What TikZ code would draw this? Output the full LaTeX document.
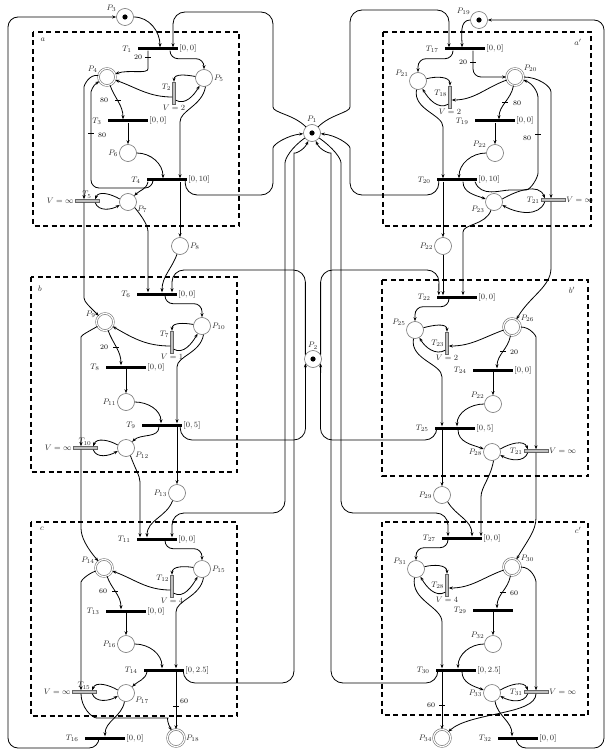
\documentclass[tikz,border=0pt]{standalone}
\usepackage{tikz}
\usetikzlibrary{arrows.meta, positioning, calc}
\usepackage{amsmath, amssymb}

\begin{document}
\begin{tikzpicture}[
  x=1pt, y=-1pt,
  lbl/.style={font=\footnotesize, inner sep=1pt, text=black!85},
  place/.style={circle, draw=black!55, fill=white, line width=0.6pt, minimum size=17pt, inner sep=0pt},
  dplace/.style={place, double=white, double distance=1.2pt},
  tplace/.style={place, path picture={\fill[black] (path picture bounding box.center) circle (2.6pt);}},
  tr/.style 2 args={rectangle, fill=black, minimum width=40pt, minimum height=3pt, inner sep=0pt,
    label={[lbl, label distance=5pt]left:$T_{#1}$}, label={[lbl]right:#2}},
  vtr/.style={rectangle, draw=black!60, fill=black!25, minimum width=3pt, minimum height=22pt, inner sep=0pt},
  htr/.style={rectangle, draw=black!60, fill=black!25, minimum width=24pt, minimum height=3pt, inner sep=0pt},
  arc/.style={draw, line width=0.8pt, rounded corners=8pt, -{Stealth[length=4pt, width=3pt]}},
  tk/.style={line width=0.8pt},
  wt/.style={font=\scriptsize, inner sep=0.5pt},
  box/.style={draw, line width=1.5pt, dash pattern=on 5pt off 3.5pt}
]
  \useasboundingbox (0,0) rectangle (610,751);

  % modules
  \draw[box] (33,32) rectangle (239,226);
  \draw[box] (31,277) rectangle (237,472);
  \draw[box] (31,522) rectangle (237,716);
  \draw[box] (383,32) rectangle (591,226);
  \draw[box] (382,280) rectangle (588,476);
  \draw[box] (382,522) rectangle (588,715);
  \node[lbl] (la) at (43,40) {$a$};
  \node[lbl] (lb) at (40,289) {$b$};
  \node[lbl] (lc) at (42,529) {$c$};
  \node[lbl] (la2) at (578,42) {$a'$};
  \node[lbl] (lb2) at (572,290) {$b'$};
  \node[lbl] (lc2) at (578,530) {$c'$};

  % shared places
  \node[tplace, label={[lbl]above:$P_1$}] (P1) at (312,133) {};
  \node[tplace, label={[lbl]above:$P_2$}] (P2) at (313,359) {};
  \node[tplace, label={[lbl]150:$P_3$}] (P3) at (125,17) {};
  \node[tplace, label={[lbl]150:$P_{19}$}] (P19) at (479,20) {};

  % a
  \node[tr={1}{$[0,0]$}] (T1) at (158,49) {};
  \node[dplace, label={[lbl]160:$P_4$}] (P4) at (107,77) {};
  \node[place, label={[lbl]right:$P_5$}] (P5) at (204,78) {};
  \node[vtr, label={[lbl,yshift=6pt]left:$T_2$}, label={[lbl]below:$V=2$}] (T2) at (174,93) {};
  \node[tr={3}{$[0,0]$}] (T3) at (128,121) {};
  \node[place, label={[lbl]left:$P_6$}] (P6) at (128,153) {};
  \node[tr={4}{$[0,10]$}] (T4) at (167,180) {};
  \node[place, label={[lbl]-20:$P_7$}] (P7) at (128,202) {};
  \node[htr, label={[lbl]above:$T_5$}, label={[lbl]left:$V=\infty$}] (T5) at (87,201) {};
  \node[place, label={[lbl]right:$P_8$}] (P8) at (180,246) {};

  % b
  \node[tr={6}{$[0,0]$}] (T6) at (157,294) {};
  \node[dplace, label={[lbl]160:$P_9$}] (P9) at (105,322) {};
  \node[place, label={[lbl]right:$P_{10}$}] (P10) at (202,326) {};
  \node[vtr, label={[lbl,yshift=8pt]left:$T_7$}, label={[lbl]below:$V=1$}] (T7) at (172,342) {};
  \node[tr={8}{$[0,0]$}] (T8) at (126,367) {};
  \node[place, label={[lbl]left:$P_{11}$}] (P11) at (126,402) {};
  \node[tr={9}{$[0,5]$}] (T9) at (162,425) {};
  \node[place, label={[lbl]-20:$P_{12}$}] (P12) at (126,448) {};
  \node[htr, label={[lbl]above:$T_{10}$}, label={[lbl]left:$V=\infty$}] (T10) at (85,448) {};
  \node[place, label={[lbl]left:$P_{13}$}] (P13) at (177,493) {};

  % c
  \node[tr={11}{$[0,0]$}] (T11) at (157,539) {};
  \node[dplace, label={[lbl]160:$P_{14}$}] (P14) at (104,568) {};
  \node[place, label={[lbl]right:$P_{15}$}] (P15) at (202,569) {};
  \node[vtr, label={[lbl,yshift=8pt]left:$T_{12}$}, label={[lbl]below:$V=4$}] (T12) at (172,586) {};
  \node[tr={13}{$[0,0]$}] (T13) at (126,611) {};
  \node[place, label={[lbl]left:$P_{16}$}] (P16) at (126,644) {};
  \node[tr={14}{$[0,2.5]$}] (T14) at (164,670) {};
  \node[place, label={[lbl]-20:$P_{17}$}] (P17) at (126,693) {};
  \node[htr, label={[lbl]above:$T_{15}$}, label={[lbl]left:$V=\infty$}] (T15) at (84,692) {};
  \node[tr={16}{$[0,0]$}] (T16) at (105,738) {};
  \node[dplace, label={[lbl]right:$P_{18}$}] (P18) at (176,738) {};

  % a'
  \node[tr={17}{$[0,0]$}] (T17) at (465,49) {};
  \node[place, label={[lbl]160:$P_{21}$}] (P21) at (418,81) {};
  \node[dplace, label={[lbl]30:$P_{20}$}] (P20) at (515,77) {};
  \node[vtr, label={[lbl,yshift=4pt]left:$T_{18}$}, label={[lbl]below:$V=2$}] (T18) at (450,97) {};
  \node[tr={19}{$[0,0]$}] (T19) at (495,121) {};
  \node[place, label={[lbl]150:$P_{22}$}] (P22) at (495,153) {};
  \node[tr={20}{$[0,10]$}] (T20) at (457,180) {};
  \node[place, label={[lbl]-160:$P_{23}$}] (P23) at (494,202) {};
  \node[htr, label={[lbl]left:$T_{21}$}, label={[lbl]right:$V=\infty$}] (T21) at (553,200) {};
  \node[place, label={[lbl]left:$P_{22}$}] (P24) at (443,246) {};

  % b'
  \node[tr={22}{$[0,0]$}] (T22) at (457,297) {};
  \node[place, label={[lbl]160:$P_{25}$}] (P25) at (415,330) {};
  \node[dplace, label={[lbl]30:$P_{26}$}] (P26) at (512,327) {};
  \node[vtr, label={[lbl]left:$T_{23}$}, label={[lbl]below:$V=2$}] (T23) at (447,343) {};
  \node[tr={24}{$[0,0]$}] (T24) at (493,370) {};
  \node[place, label={[lbl]150:$P_{22}$}] (P27) at (493,404) {};
  \node[tr={25}{$[0,5]$}] (T25) at (455,428) {};
  \node[place, label={[lbl]left:$P_{28}$}] (P28) at (492,452) {};
  \node[htr, label={[lbl]left:$T_{21}$}, label={[lbl]right:$V=\infty$}] (T26) at (536,451) {};
  \node[place, label={[lbl]left:$P_{29}$}] (P29) at (442,495) {};

  % c'
  \node[tr={27}{$[0,0]$}] (T27) at (462,538) {};
  \node[place, label={[lbl]160:$P_{31}$}] (P31) at (416,569) {};
  \node[dplace, label={[lbl]30:$P_{30}$}] (P30) at (512,567) {};
  \node[vtr, label={[lbl]left:$T_{28}$}, label={[lbl]below:$V=4$}] (T28) at (447,585) {};
  \node[tr={29}{}] (T29) at (493,610) {};
  \node[place, label={[lbl]150:$P_{32}$}] (P32) at (493,644) {};
  \node[tr={30}{$[0,2.5]$}] (T30) at (456,670) {};
  \node[place, label={[lbl]left:$P_{33}$}] (P33) at (492,693) {};
  \node[htr, label={[lbl]left:$T_{31}$}, label={[lbl]right:$V=\infty$}] (T31) at (536,692) {};
  \node[dplace, label={[lbl]left:$P_{34}$}] (P34) at (442,738) {};
  \node[tr={32}{$[0,0]$}] (T32) at (518,738) {};

  % arcs of a
  \draw[arc] (P3.east) to[out=0,in=90] ([xshift=2pt]T1.north);
  \draw[arc, rounded corners=12pt] (P1.135) to[out=135,in=-90] (273,95) |- (173,12) -- ([xshift=15pt]T1.north);
  \draw[arc] ([xshift=-10pt]T1.south) -- ++(0,10) to[out=-90,in=20] (P4.20);
  \draw[arc] ([xshift=12pt]T1.south) -- ++(0,8) -| (P5.north);
  \draw[arc] (P5.170) to[out=170,in=90] (T2.north);
  \draw[arc] ([yshift=4pt]T2.south east) to[out=-30,in=-120] (P5.-120);
  \draw[arc] ([yshift=-4pt]T2.west) to[out=180,in=-20] (P4.-20);
  \draw[arc] (P4.-70) to[out=-70,in=90] ([xshift=-5pt]T3.north);
  \draw[arc] (T3.south) -- (P6.north);
  \draw[arc] (P6.east) to[out=0,in=90] ([xshift=-4pt]T4.north);
  \draw[arc] (P5.-80) to[out=-100,in=90] (180,130) -- ([xshift=13pt]T4.north);
  \draw[arc] ([xshift=-14pt]T4.south) |- (91,188) -- (91,100) to[out=90,in=-150] (P4.-150);
  \draw[arc] ([xshift=-19pt]T4.south) to[out=-100,in=45] (P7.45);
  \draw[arc] ([xshift=13pt]T4.south) -- (P8.north);
  \draw[arc, rounded corners=12pt] ([xshift=-2pt]T4.east) |- (273,195) -- (273,160) to[out=90,in=185] (P1.185);
  \draw[arc] (P4.170) to[out=170,in=90] (84,95) -- ([xshift=-3pt]T5.north);
  \draw[arc] (P7.160) to[out=150,in=70] ([xshift=-4pt]T5.north east);
  \draw[arc] ([xshift=-4pt]T5.south east) to[out=-70,in=-150] (P7.-160);
  \node[wt] (w1) at (138,57) {20};
  \draw[tk] (145,57) -- (151,57);
  \node[wt] (w2) at (104,100) {80};
  \draw[tk] (115,100) -- (121,100);
  \node[wt] (w3) at (102,135) {80};
  \draw[tk] (88,133) -- (94,133);

  % arcs of b
  \draw[arc] ([xshift=-3pt]T5.south) -- (84,290) to[out=-90,in=135] (P9.135);
  \draw[arc] (P7.-40) to[out=-50,in=90] (148,240) -- ([xshift=-9pt]T6.north);
  \draw[arc] (P8.-110) to[out=-110,in=90] ([xshift=5pt]T6.north);
  \draw[arc, rounded corners=12pt] (P2.150) |- (172,270) -- ([xshift=15pt]T6.north);
  \draw[arc] ([xshift=8pt]T6.south) -- ++(0,8) -| (P10.north);
  \draw[arc] (P10.170) to[out=170,in=90] (T7.north);
  \draw[arc] ([yshift=4pt]T7.south east) to[out=-30,in=-120] (P10.-120);
  \draw[arc] ([yshift=-4pt]T7.west) to[out=180,in=-30] (P9.-30);
  \draw[arc] (P9.-70) to[out=-70,in=90] ([xshift=-5pt]T8.north);
  \draw[arc] (T8.south) -- (P11.north);
  \draw[arc] (P11.east) to[out=0,in=90] ([xshift=-1pt]T9.north);
  \draw[arc] (P10.-80) to[out=-100,in=90] (177,375) -- ([xshift=15pt]T9.north);
  \draw[arc] ([xshift=15pt]T9.south) -- (P13.north);
  \draw[arc] ([xshift=-3pt]T9.south) to[out=-90,in=45] (P12.45);
  \draw[arc, rounded corners=12pt] ([xshift=-2pt]T9.east) |- (305.6,440) -- (P2.-150);
  \draw[arc] (P9.-150) to[out=-150,in=90] (81,345) -- ([xshift=-4pt]T10.north);
  \draw[arc] (P12.160) to[out=150,in=70] ([xshift=-4pt]T10.north east);
  \draw[arc] ([xshift=-4pt]T10.south east) to[out=-70,in=-150] (P12.-160);
  \node[wt] (w4) at (104,347) {20};
  \draw[tk] (113,347) -- (119,347);

  % arcs of c
  \draw[arc] ([xshift=-4pt]T10.south) -- (81,520) to[out=-90,in=130] (P14.130);
  \draw[arc] (P12.-60) to[out=-70,in=90] (140,490) -- ([xshift=-17pt]T11.north);
  \draw[arc] (P13.-120) to[out=-110,in=90] ([xshift=-10pt]T11.north);
  \draw[arc, rounded corners=12pt] (P1.-145) to[out=-145,in=90] (285,175) |- (172,513) -- ([xshift=15pt]T11.north);
  \draw[arc] ([xshift=8pt]T11.south) -- ++(0,8) -| (P15.north);
  \draw[arc] (P15.170) to[out=170,in=90] (T12.north);
  \draw[arc] ([yshift=4pt]T12.south east) to[out=-30,in=-120] (P15.-120);
  \draw[arc] ([yshift=-4pt]T12.west) to[out=180,in=-20] (P14.-20);
  \draw[arc] (P14.-70) to[out=-70,in=90] ([xshift=-5pt]T13.north);
  \draw[arc] (T13.south) -- (P16.north);
  \draw[arc] (P16.east) to[out=0,in=90] ([xshift=-2pt]T14.north);
  \draw[arc] (P15.-80) to[out=-100,in=90] (176,620) -- ([xshift=12pt]T14.north);
  \draw[arc] ([xshift=12pt]T14.south) -- (P18.north);
  \draw[arc] ([xshift=-17pt]T14.south) to[out=-100,in=45] (P17.45);
  \draw[arc, rounded corners=12pt] ([xshift=-1pt]T14.east) |- (294,683) -- (294,165) to[out=90,in=-115] (P1.-115);
  \draw[arc] (P14.-160) to[out=-160,in=90] (81,590) -- ([xshift=-3pt]T15.north);
  \draw[arc] (P17.160) to[out=150,in=70] ([xshift=-4pt]T15.north east);
  \draw[arc] ([xshift=-4pt]T15.south east) to[out=-70,in=-150] (P17.-160);
  \draw[arc] ([xshift=-3pt]T15.south) to[out=-90,in=180] (105,718) -- (160,718) to[out=0,in=120] (P18.120);
  \draw[arc] (P17.-100) to[out=-100,in=90] (T16.north);
  \draw[arc, rounded corners=10pt] ([xshift=-6pt]T16.south) |- (8,748) |- (P3.west);
  \node[wt] (w5) at (103,591) {60};
  \draw[tk] (112,591) -- (118,591);
  \node[wt] (w6) at (184,701) {60};
  \draw[tk] (173,706) -- (179,706);

  % arcs of a'
  \draw[arc] (P19.west) to[out=180,in=90] ([xshift=-3pt]T17.north);
  \draw[arc, rounded corners=12pt] (P1.45) to[out=45,in=-90] (350,95) |- (449,10) -- ([xshift=-16pt]T17.north);
  \draw[arc] ([xshift=-12pt]T17.south) -- ++(0,8) -| (P21.north);
  \draw[arc] ([xshift=8pt]T17.south) |- (P20.west);
  \draw[arc] (P21.15) to[out=15,in=90] (T18.north);
  \draw[arc] ([yshift=4pt]T18.south west) to[out=-150,in=-60] (P21.-60);
  \draw[arc] (P20.-160) to[out=-160,in=0] ([yshift=-3pt]T18.east);
  \draw[arc] (P20.-100) to[out=-100,in=90] ([xshift=4pt]T19.north);
  \draw[arc] (T19.south) -- (P22.north);
  \draw[arc] (P22.west) to[out=180,in=90] ([xshift=2pt]T20.north);
  \draw[arc] (P21.-100) to[out=-100,in=90] (443,135) -- ([xshift=-14pt]T20.north);
  \draw[arc] ([xshift=-14pt]T20.south) -- (P24.north);
  \draw[arc] ([xshift=6pt]T20.south) to[out=-90,in=160] (P23.160);
  \draw[arc] ([xshift=18pt]T20.south) to[out=-70,in=180] (518,190) to[out=0,in=-90] (538,165) -- (538,105) to[out=90,in=-20] (P20.-20);
  \draw[arc, rounded corners=12pt] ([xshift=2pt]T20.west) |- (350,195) -- (350,160) to[out=90,in=-5] (P1.-5);
  \draw[arc] (P20.east) to[out=0,in=90] (551,100) -- ([xshift=-2pt]T21.north);
  \draw[arc] (P23.20) to[out=30,in=110] ([xshift=4pt]T21.north west);
  \draw[arc] ([xshift=4pt]T21.south west) to[out=-110,in=-30] (P23.-20);
  \node[wt] (w7) at (463,62) {20};
  \draw[tk] (470,62) -- (476,62);
  \node[wt] (w8) at (517,103) {80};
  \draw[tk] (502,102) -- (508,102);
  \node[wt] (w9) at (527,138) {80};
  \draw[tk] (535,134) -- (541,134);

  % arcs of b'
  \draw[arc] ([xshift=-2pt]T21.south) -- (551,260) to[out=-90,in=60] (P26.60);
  \draw[arc] (P23.-110) to[out=-110,in=90] (463,240) -- ([xshift=6pt]T22.north);
  \draw[arc] (P24.south) -- ([xshift=-14pt]T22.north);
  \draw[arc, rounded corners=12pt] (P2.30) |- (439,270) -- ([xshift=2pt]T22.north west);
  \draw[arc] ([xshift=-8pt]T22.south) -- ++(0,8) -| (P25.north);
  \draw[arc] (P25.15) to[out=15,in=90] (T23.north);
  \draw[arc] ([yshift=4pt]T23.south west) to[out=-150,in=-60] (P25.-60);
  \draw[arc] (P26.-160) to[out=-160,in=0] ([yshift=-3pt]T23.east);
  \draw[arc] (P26.-100) to[out=-100,in=90] ([xshift=4pt]T24.north);
  \draw[arc] (T24.south) -- (P27.north);
  \draw[arc] (P27.west) to[out=180,in=90] ([xshift=2pt]T25.north);
  \draw[arc] (P25.-100) to[out=-100,in=90] (442,385) -- ([xshift=-13pt]T25.north);
  \draw[arc] ([xshift=-13pt]T25.south) -- (P29.north);
  \draw[arc] ([xshift=3pt]T25.south) to[out=-90,in=160] (P28.160);
  \draw[arc, rounded corners=12pt] ([xshift=2pt]T25.south west) |- (320.4,440) -- (P2.-30);
  \draw[arc] (P26.east) to[out=0,in=90] (536,345) -- (T26.north);
  \draw[arc] (P28.20) to[out=30,in=110] ([xshift=4pt]T26.north west);
  \draw[arc] ([xshift=4pt]T26.south west) to[out=-110,in=-30] (P28.-20);
  \node[wt] (w10) at (514,352) {20};
  \draw[tk] (500,351) -- (506,351);

  % arcs of c'
  \draw[arc] (T26.south) -- (536,510) to[out=-90,in=60] (P30.60);
  \draw[arc] (P28.-80) to[out=-100,in=90] (481,505) -- ([xshift=19pt]T27.north);
  \draw[arc] (P29.-50) to[out=-60,in=90] ([xshift=10pt]T27.north);
  \draw[arc, rounded corners=12pt] (P1.-35) to[out=-35,in=90] (341,175) |- (448,513) -- ([xshift=-14pt]T27.north);
  \draw[arc] ([xshift=-14pt]T27.south) -- ++(0,8) -| (P31.north);
  \draw[arc] (P31.15) to[out=15,in=90] (T28.north);
  \draw[arc] ([yshift=4pt]T28.south west) to[out=-150,in=-60] (P31.-60);
  \draw[arc] (P30.-160) to[out=-160,in=0] ([yshift=-3pt]T28.east);
  \draw[arc] (P30.-100) to[out=-100,in=90] ([xshift=4pt]T29.north);
  \draw[arc] (T29.south) -- (P32.north);
  \draw[arc] (P32.west) to[out=180,in=90] ([xshift=2pt]T30.north);
  \draw[arc] (P31.-100) to[out=-100,in=90] (442,630) -- ([xshift=-14pt]T30.north);
  \draw[arc] ([xshift=-14pt]T30.south) -- (P34.north);
  \draw[arc] ([xshift=6pt]T30.south) to[out=-90,in=160] (P33.160);
  \draw[arc, rounded corners=12pt] ([xshift=2pt]T30.west) |- (331,683) -- (331,165) to[out=90,in=-65] (P1.-65);
  \draw[arc] (P30.east) to[out=0,in=90] (536,590) -- (T31.north);
  \draw[arc] (P33.20) to[out=30,in=110] ([xshift=4pt]T31.north west);
  \draw[arc] ([xshift=4pt]T31.south west) to[out=-110,in=-30] (P33.-20);
  \draw[arc] (T31.south) .. controls (536,715) and (470,712) .. (P34.45);
  \draw[arc] (P33.-70) to[out=-80,in=90] ([xshift=-6pt]T32.north);
  \draw[arc, rounded corners=10pt] ([xshift=-2pt]T32.south) |- (604,748) |- (P19.east);
  \node[wt] (w11) at (514,593) {60};
  \draw[tk] (500,592) -- (506,592);
  \node[wt] (w12) at (431,705) {60};
  \draw[tk] (439,705) -- (445,705);
\end{tikzpicture}
\end{document}
